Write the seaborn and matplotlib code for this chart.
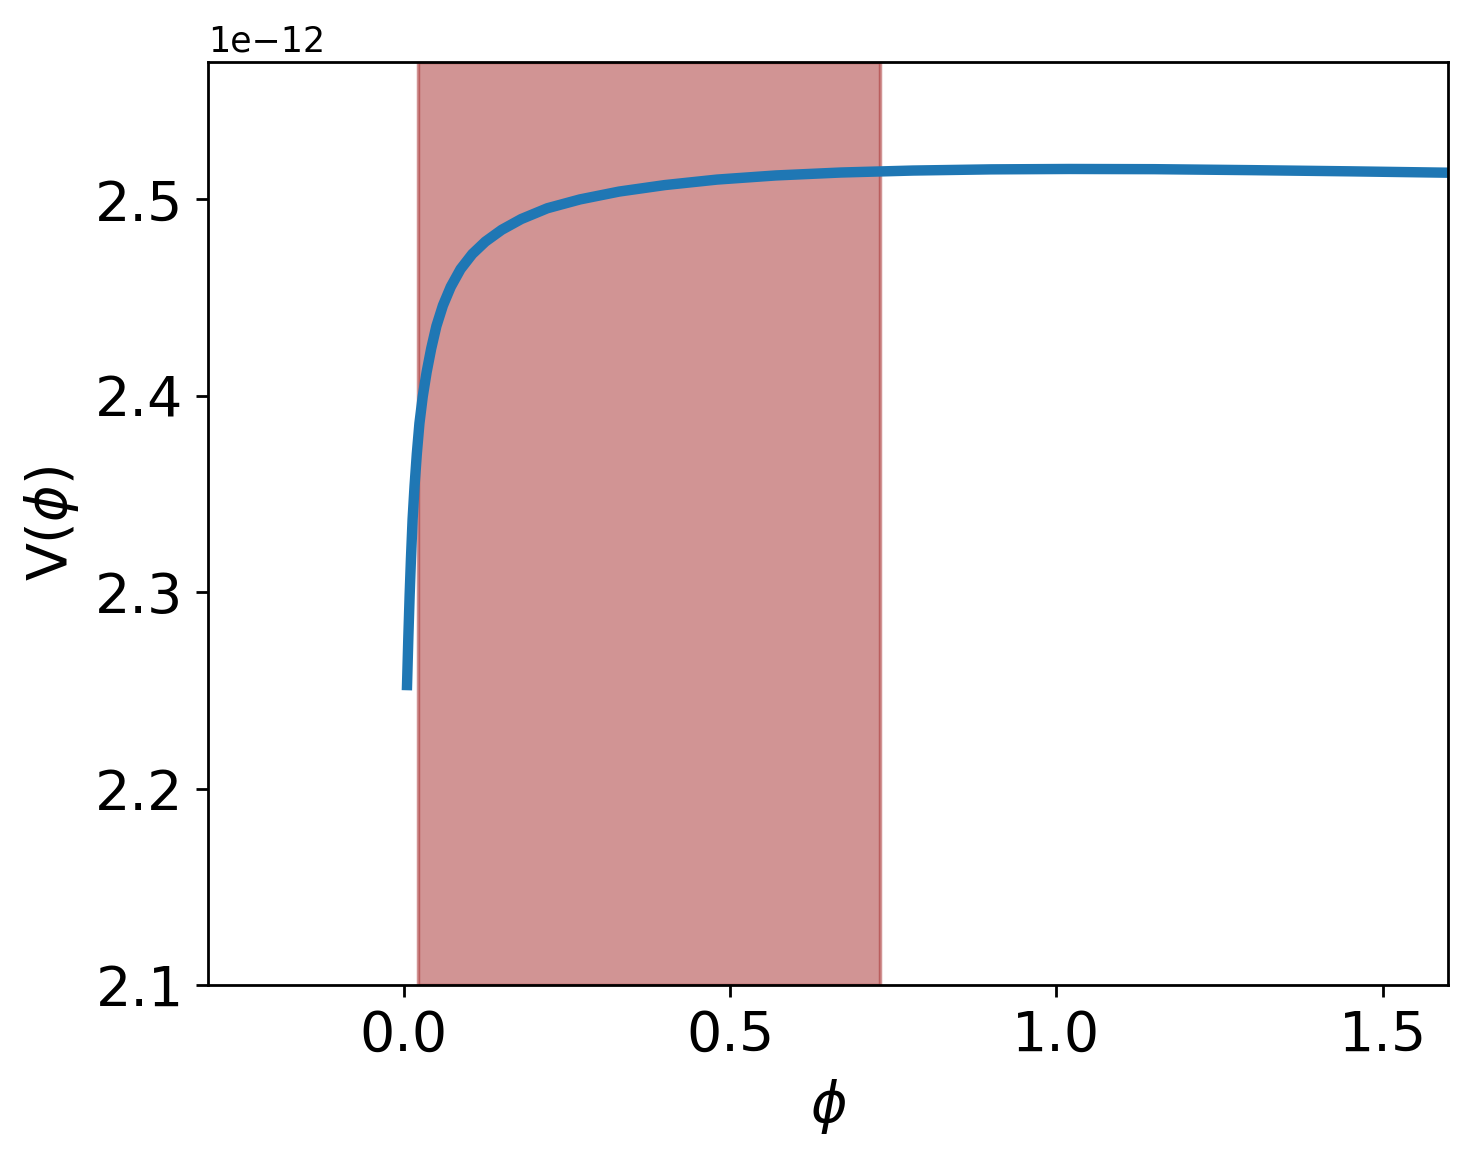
import matplotlib
matplotlib.use("Agg")
import matplotlib.pyplot as plt
import seaborn as sns
import pandas as pd

# Data (V in units of 1e-12)
phi = [0.0050, 0.0070, 0.0090, 0.0110, 0.0135, 0.0165, 0.0200, 0.0240, 0.0290,
       0.0350, 0.0420, 0.0500, 0.0600, 0.0720, 0.0870, 0.1050, 0.1250, 0.1500,
       0.1800, 0.2200, 0.2700, 0.3300, 0.4000, 0.4800, 0.5700, 0.6700, 0.7800,
       0.9000, 1.0200, 1.1500, 1.3000, 1.4500, 1.6000]
V_scaled = [2.2527, 2.2770, 2.2985, 2.3170, 2.3370, 2.3540, 2.3705, 2.3860, 2.3995,
            2.4120, 2.4240, 2.4355, 2.4460, 2.4555, 2.4645, 2.4722, 2.4785, 2.4845,
            2.4900, 2.4955, 2.5000, 2.5040, 2.5073, 2.5101, 2.5122, 2.5137, 2.5147,
            2.5153, 2.5155, 2.5154, 2.5149, 2.5143, 2.5136]
V_unit = 1e-12
shade_range = [0.0215, 0.730]
x_ticks = [0.0, 0.5, 1.0, 1.5]
y_ticks = [2.1, 2.2, 2.3, 2.4, 2.5]

df = pd.DataFrame({"phi": phi, "V": [v * V_unit for v in V_scaled]})

fig = plt.figure(figsize=(1473 / 250, 1160 / 250), dpi=250)
ax = fig.add_axes([0.1412, 0.1509, 0.983 - 0.1412, 0.9466 - 0.1509])

ax.axvspan(shade_range[0], shade_range[1], color="brown", alpha=0.5)
sns.lineplot(data=df, x="phi", y="V", ax=ax, sort=False, color="#1f77b4",
             linewidth=3.0, estimator=None)

ax.set_xlim(-0.3, 1.6)
ax.set_ylim(2.1e-12, 2.57e-12)
ax.set_xticks(x_ticks)
ax.set_xticklabels([f"{t:.1f}" for t in x_ticks])
ax.set_yticks([t * V_unit for t in y_ticks])
ax.tick_params(labelsize=16)
ax.set_xlabel(r"$\phi$", fontsize=16)
ax.set_ylabel(r"V($\phi$)", fontsize=16)

fig.savefig("out.png", dpi=250)
